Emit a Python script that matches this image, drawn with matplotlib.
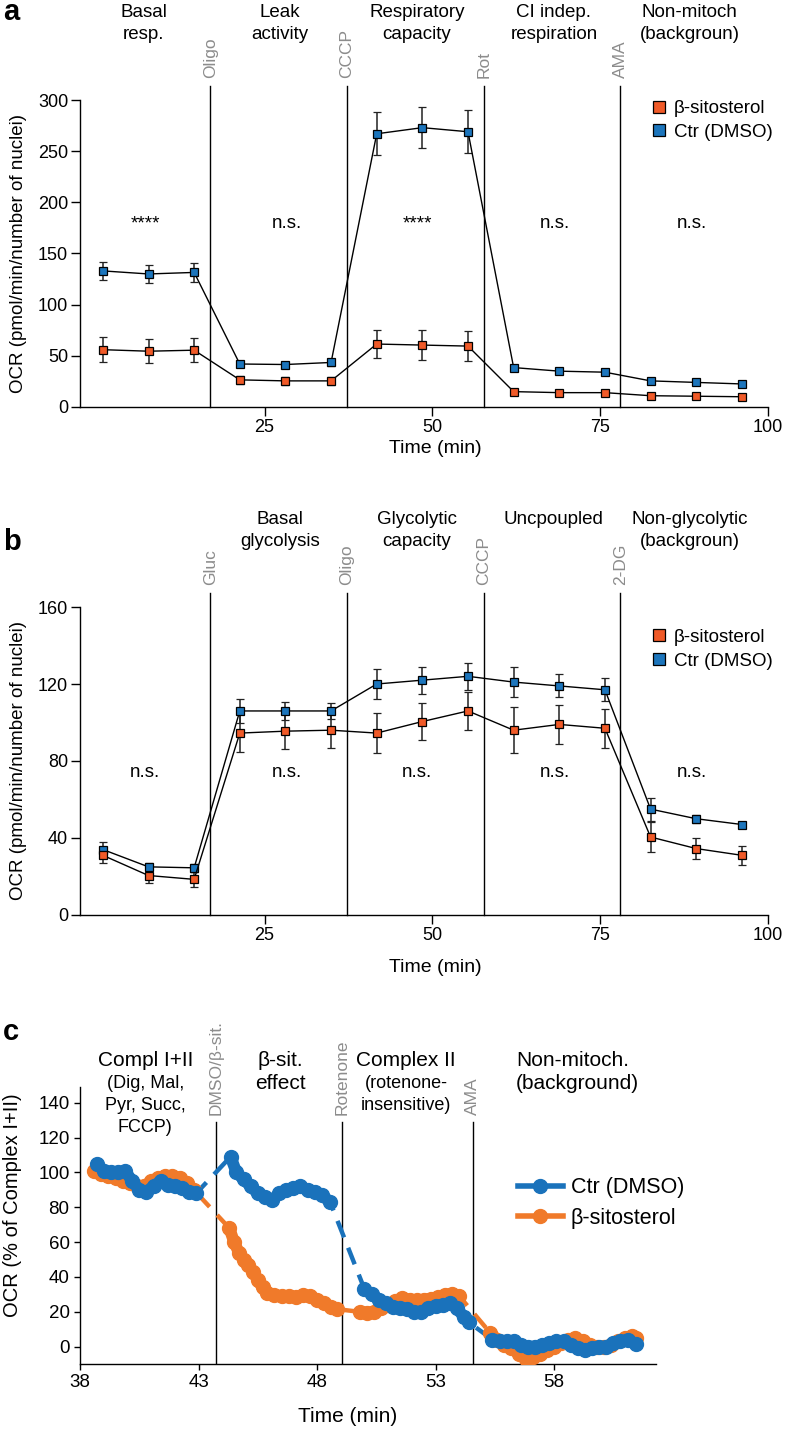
import matplotlib
matplotlib.use("Agg")
import matplotlib.pyplot as plt
from matplotlib.lines import Line2D

plt.rcParams['font.family'] = ['Liberation Sans', 'DejaVu Sans']
plt.rcParams['axes.linewidth'] = 1.0

ORANGE = '#f05a28'
BLUE = '#1c75bc'
C_ORANGE = '#f07a2a'
C_BLUE = '#1a72bb'
GREY = '#8c8c8c'

# ---- Seahorse measurement times (min), shared by panels a and b ----
meas_time = [0.9, 7.7, 14.5, 21.3, 28.1, 34.9, 41.7, 48.5, 55.3,
             62.1, 68.9, 75.7, 82.5, 89.3, 96.1]

# panel a: mito stress test
a_sito = [56, 54.5, 55.5, 26.5, 25.5, 25.5, 61.5, 60.5, 59.5, 15, 14, 14, 11, 10.5, 10]
a_sito_err = [12, 12, 12, 4, 4, 4, 14, 15, 15, 2.5, 2.5, 2.5, 2, 2, 2]
a_ctr = [133, 130, 131.5, 42, 41.5, 43.5, 267, 273, 269, 38.5, 35, 34, 25.5, 24, 22.5]
a_ctr_err = [9, 9, 9, 3, 2.5, 3, 21, 20, 21, 3, 2.5, 2.5, 2.5, 2.5, 2.5]
a_drugs = ['Oligo', 'CCCP', 'Rot', 'AMA']
a_head_top = ['Basal', 'Leak', 'Respiratory', 'CI indep.', 'Non-mitoch']
a_head_bot = ['resp.', 'activity', 'capacity', 'respiration', '(backgroun)']
a_stats = ['****', 'n.s.', '****', 'n.s.', 'n.s.']

# panel b: glycolysis stress test
b_sito = [31, 20.5, 18.5, 94.5, 95.5, 96, 94.5, 100.5, 106, 96, 99, 97, 40.5, 34.5, 31]
b_sito_err = [4, 4, 4, 10, 9.5, 9, 10.5, 9.5, 10, 12, 10, 10, 8, 5.5, 5]
b_ctr = [34, 25, 24.5, 106, 106, 106, 120, 122, 124, 121, 119, 117, 55, 50, 47]
b_ctr_err = [4, 2, 2, 6, 4.5, 4, 8, 7, 7, 8, 6, 6, 6, 2, 1.5]
b_drugs = ['Gluc', 'Oligo', 'CCCP', '2-DG']
b_head_top = ['', 'Basal', 'Glycolytic', 'Uncpoupled', 'Non-glycolytic']
b_head_bot = ['', 'glycolysis', 'capacity', '', '(backgroun)']
b_stats = ['n.s.', 'n.s.', 'n.s.', 'n.s.', 'n.s.']

# panel c: permeabilized cells, % of Complex I+II (orange = beta-sitosterol, blue = DMSO)
c_sito_t = [
    [38.6, 38.9, 39.2, 39.5, 39.8, 40.1, 40.4, 40.7, 41.0, 41.3, 41.6, 41.9, 42.2, 42.5, 42.8],
    [44.3, 44.5, 44.7, 44.9, 45.1, 45.3, 45.5, 45.7, 45.9, 46.2, 46.5, 46.8, 47.1, 47.4,
     47.7, 48.0, 48.3, 48.6, 48.85],
    [49.8, 50.1, 50.4, 50.7, 51.0, 51.3, 51.6, 51.9, 52.2, 52.5, 52.8, 53.1, 53.4, 53.7, 54.0],
    [55.3, 55.6, 55.9, 56.2, 56.5, 56.8, 57.1, 57.4, 57.7, 58.0, 58.3, 58.6, 58.9, 59.2,
     59.5, 59.8, 60.1, 60.4, 60.7, 61.0, 61.3, 61.45],
]
c_sito_v = [
    [101, 99, 98, 97, 95, 94, 92, 92, 95, 97, 98, 98, 97, 94, 90],
    [68, 60, 54, 50, 47, 43, 38, 34, 31, 29.5, 29, 29, 28.5, 29.5, 29, 27, 25, 22.5, 21.5],
    [20, 19.5, 20, 22, 24, 26, 28, 27, 26.5, 27, 27.5, 28.5, 29.5, 30.5, 29],
    [8, 4, 1, -1, -4, -7, -6, -4, -2, 0, 2, 4, 5, 3, 1, 0, 0, 1, 3, 5, 6, 5],
]
c_ctr_t = [
    [38.7, 39.0, 39.3, 39.6, 39.9, 40.2, 40.5, 40.8, 41.1, 41.4, 41.7, 42.0, 42.3, 42.6, 42.9],
    [44.35, 44.6, 44.9, 45.2, 45.5, 45.8, 46.1, 46.4, 46.7, 47.0, 47.3, 47.6, 47.9, 48.2, 48.55],
    [50.0, 50.3, 50.6, 50.9, 51.2, 51.5, 51.8, 52.1, 52.4, 52.7, 53.0, 53.3, 53.6, 53.9, 54.2, 54.4],
    [55.4, 55.7, 56.0, 56.3, 56.6, 56.9, 57.2, 57.5, 57.8, 58.1, 58.4, 58.7, 59.0, 59.3,
     59.6, 59.9, 60.2, 60.5, 60.8, 61.1, 61.45],
]
c_ctr_v = [
    [105, 101, 100, 100, 101, 95, 90, 89, 92, 95, 93, 92, 91, 89, 88],
    [109, 100, 96, 92, 88, 86, 84, 88, 90, 91, 92, 90, 89, 87, 83],
    [33, 30, 27, 25, 23, 22, 21.5, 20, 20, 22, 23.5, 24, 25, 22, 17, 14],
    [4, 3, 3, 3, 1, 0, 0, 1, 2, 3, 3, 1, -1, -2, -1, 0, 0, 2, 3, 4, 1.5],
]
c_drugs = ['DMSO/β-sit.', 'Rotenone', 'AMA']

# layout (x positions in data units)
drug_x = [16.9, 37.2, 57.7, 78.0]
head_x = [7.0, 27.3, 47.7, 68.1, 88.3]
stat_x = [7.2, 28.3, 47.7, 68.3, 88.6]
c_drug_x = [43.75, 49.07, 54.57]

fig = plt.figure(figsize=(7.87, 14.33), dpi=100)
ax_a = fig.add_axes([0.1017, 0.7160, 0.8742, 0.2142])
ax_b = fig.add_axes([0.1017, 0.3615, 0.8742, 0.2149])
ax_c = fig.add_axes([0.1017, 0.0481, 0.7319, 0.1933])


def seahorse(ax, sito, sito_err, ctr, ctr_err, ytop, ystep, drugs, htop, hbot,
             stats, stat_y, leg_y, xlab_y):
    for vals, errs, col in [(ctr, ctr_err, BLUE), (sito, sito_err, ORANGE)]:
        ax.errorbar(meas_time, vals, yerr=errs, fmt='-s', color='k', lw=1.0,
                    ms=6, mfc=col, mec='k', mew=0.9, ecolor='#222222',
                    elinewidth=1.1, capsize=3, capthick=1.1, zorder=3)
    xt = ax.get_xaxis_transform()
    for x, lab in zip(drug_x, drugs):
        ax.axvline(x, ymin=0, ymax=1.045, color='k', lw=1.0, clip_on=False, zorder=1)
        ax.annotate(lab, xy=(x, 1), xycoords=xt, xytext=(0, 15.5),
                    textcoords='offset points', rotation=90, ha='center',
                    va='bottom', color=GREY, fontsize=12.5, annotation_clip=False)
    for x, t1, t2 in zip(head_x, htop, hbot):
        ax.annotate(t1, xy=(x, 1), xycoords=xt, xytext=(0, 63),
                    textcoords='offset points', ha='center', va='center',
                    fontsize=13.5, annotation_clip=False)
        ax.annotate(t2, xy=(x, 1), xycoords=xt, xytext=(0, 47.5),
                    textcoords='offset points', ha='center', va='center',
                    fontsize=13.5, annotation_clip=False)
    for x, s in zip(stat_x, stats):
        ax.text(x, stat_y, s, ha='center', va='center', fontsize=13.5)
    ax.set_xlim(-2.5, 100)
    ax.set_ylim(0, ytop)
    ax.set_xticks([25, 50, 75, 100])
    ax.set_yticks(range(0, ytop + 1, ystep))
    ax.spines['top'].set_visible(False)
    ax.spines['right'].set_visible(False)
    ax.tick_params(length=6.5, width=1.0, labelsize=13, pad=2)
    ax.set_ylabel('OCR (pmol/min/number of nuclei)', fontsize=13.5, va='center')
    ax.yaxis.set_label_coords(-0.09, 0.5)
    ax.set_xlabel('Time (min)', fontsize=14, va='center')
    ax.xaxis.set_label_coords(0.517, xlab_y)
    handles = [Line2D([], [], ls='none', marker='s', mfc=ORANGE, mec='k', mew=0.9, ms=8),
               Line2D([], [], ls='none', marker='s', mfc=BLUE, mec='k', mew=0.9, ms=8)]
    ax.legend(handles, ['β-sitosterol', 'Ctr (DMSO)'], loc='upper left',
              bbox_to_anchor=(0.83, leg_y), frameon=False, borderpad=0,
              borderaxespad=0, handlelength=0.8, handletextpad=0.4,
              labelspacing=0.35, fontsize=13.5)


seahorse(ax_a, a_sito, a_sito_err, a_ctr, a_ctr_err, 300, 50, a_drugs,
         a_head_top, a_head_bot, a_stats, 179, 1.0, -0.134)
seahorse(ax_b, b_sito, b_sito_err, b_ctr, b_ctr_err, 160, 40, b_drugs,
         b_head_top, b_head_bot, b_stats, 74, 0.929, -0.172)

# ---- panel c ----
for ts, vs, col in [(c_sito_t, c_sito_v, C_ORANGE), (c_ctr_t, c_ctr_v, C_BLUE)]:
    all_t = [t for seg in ts for t in seg]
    all_v = [v for seg in vs for v in seg]
    ax_c.plot(all_t, all_v, color=col, lw=3.2, ls=(0, (4, 2.5)), zorder=2)
    for st, sv in zip(ts, vs):
        ax_c.plot(st, sv, color=col, lw=8.5, marker='o', ms=10, mec=col,
                  solid_capstyle='round', solid_joinstyle='round', zorder=3)

for x, lab in zip(c_drug_x, c_drugs):
    ax_c.plot([x, x], [-10, 129], color='k', lw=1.0, zorder=1)
    ax_c.text(x, 133, lab, rotation=90, ha='center', va='bottom', color=GREY,
              fontsize=12.5)

xt = ax_c.get_xaxis_transform()
c_heads = [
    (40.75, 'Compl I+II', 19.4, 15), (40.75, '(Dig, Mal,', 2.9, 13),
    (40.75, 'Pyr, Succ,', -13, 13), (40.75, 'FCCP)', -28.8, 13),
    (46.45, 'β-sit.', 19.4, 15), (46.45, 'effect', 2.9, 15),
    (51.75, 'Complex II', 19.4, 15), (51.75, '(rotenone-', 2.9, 13),
    (51.75, 'insensitive)', -13, 13),
]
for x, s, off, fs in c_heads:
    ax_c.annotate(s, xy=(x, 1), xycoords=xt, xytext=(0, off),
                  textcoords='offset points', ha='center', va='center',
                  fontsize=fs, annotation_clip=False)
for s, off in [('Non-mitoch.', 19.4), ('(background)', 2.9)]:
    ax_c.annotate(s, xy=(56.4, 1), xycoords=xt, xytext=(0, off),
                  textcoords='offset points', ha='left', va='center',
                  fontsize=15, annotation_clip=False)

ax_c.set_xlim(38, 62.3)
ax_c.set_ylim(-10, 149)
ax_c.set_xticks([38, 43, 48, 53, 58])
ax_c.set_yticks(range(0, 141, 20))
ax_c.spines['top'].set_visible(False)
ax_c.spines['right'].set_visible(False)
ax_c.tick_params(length=4.5, width=1.0, labelsize=13.5, pad=3)
ax_c.set_ylabel('OCR (% of Complex I+II)', fontsize=14.5, va='center')
ax_c.yaxis.set_label_coords(-0.118, 0.574)
ax_c.set_xlabel('Time (min)', fontsize=15, va='center')
ax_c.xaxis.set_label_coords(0.464, -0.191)
c_handles = [Line2D([], [], color=C_BLUE, lw=4, marker='o', ms=10),
             Line2D([], [], color=C_ORANGE, lw=4, marker='o', ms=10)]
ax_c.legend(c_handles, ['Ctr (DMSO)', 'β-sitosterol'], loc='upper left',
            bbox_to_anchor=(0.76, 0.675), frameon=False, borderpad=0,
            borderaxespad=0, handlelength=2.1, handletextpad=0.37,
            labelspacing=0.45, fontsize=15.5)

# panel letters
fig.text(0.004, 1 - 12 / 1433, 'a', fontsize=21, fontweight='bold', va='center')
fig.text(0.004, 1 - 542 / 1433, 'b', fontsize=21, fontweight='bold', va='center')
fig.text(0.004, 1 - 1032 / 1433, 'c', fontsize=21, fontweight='bold', va='center')

fig.savefig('out.png', dpi=100)
